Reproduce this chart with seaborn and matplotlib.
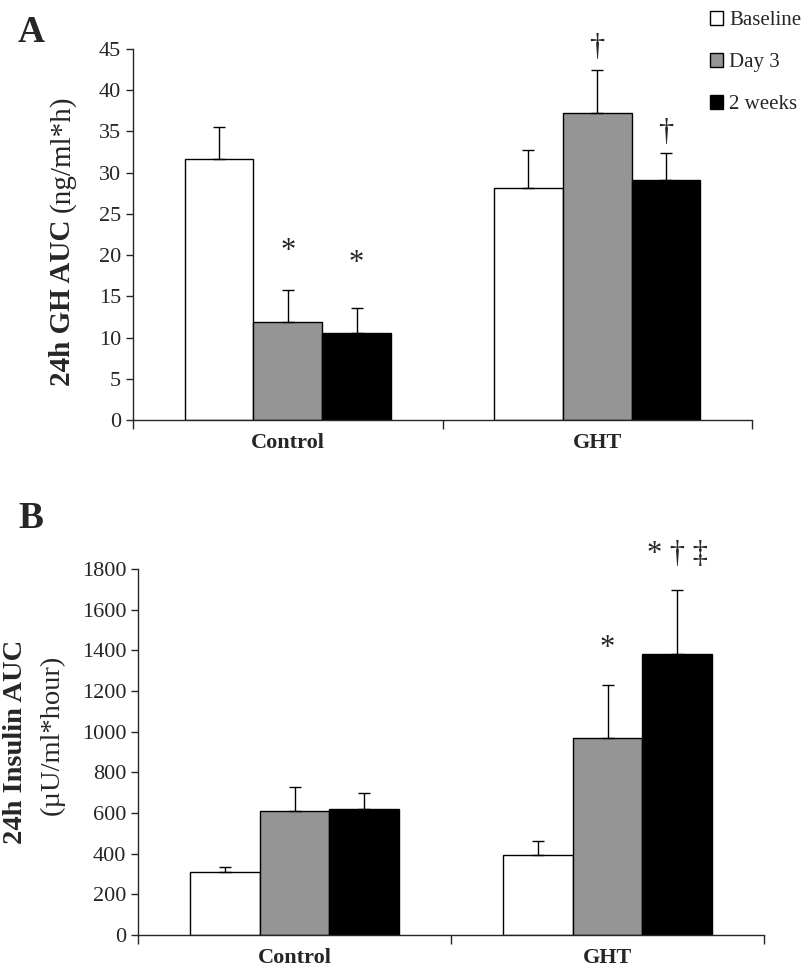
import pandas as pd
import matplotlib.pyplot as plt
import seaborn as sns
from matplotlib.patches import Patch

# Data
groups = ["Control", "GHT"]
times = ["Baseline", "Day 3", "2 weeks"]
colors = ["#ffffff", "#959595", "#000000"]

# Panel A: 24h GH AUC (ng/ml*h)
gh_baseline = [31.6, 28.2]
gh_day3 = [11.9, 37.2]
gh_2wk = [10.6, 29.1]
gh_err_baseline = [3.9, 4.6]
gh_err_day3 = [3.9, 5.3]
gh_err_2wk = [3.0, 3.3]

# Panel B: 24h Insulin AUC (uU/ml*hour)
ins_baseline = [308, 392]
ins_day3 = [610, 970]
ins_2wk = [621, 1380]
ins_err_baseline = [26, 72]
ins_err_day3 = [116, 258]
ins_err_2wk = [76, 318]

# significance marks (group, time, y position)
gh_marks = [("Control", "Day 3", "*", 20.4), ("Control", "2 weeks", "*", 19.0),
            ("GHT", "Day 3", "†", 45.2), ("GHT", "2 weeks", "†", 34.9)]
ins_marks = [("GHT", "Day 3", "*", 1410), ("GHT", "2 weeks", "* † ‡", 1870)]


def to_long(base, d3, w2, eb, ed3, ew2):
    rows = []
    for vals, errs, t in [(base, eb, times[0]), (d3, ed3, times[1]), (w2, ew2, times[2])]:
        for g, v, e in zip(groups, vals, errs):
            rows.append({"group": g, "time": t, "value": v, "err": e})
    return pd.DataFrame(rows)


df_gh = to_long(gh_baseline, gh_day3, gh_2wk, gh_err_baseline, gh_err_day3, gh_err_2wk)
df_ins = to_long(ins_baseline, ins_day3, ins_2wk, ins_err_baseline, ins_err_day3, ins_err_2wk)

sns.set_style("ticks")
plt.rcParams["font.family"] = ["Liberation Serif", "DejaVu Serif"]
plt.rcParams["axes.linewidth"] = 1.0

fig = plt.figure(figsize=(8.06, 9.72), dpi=100)
axA = fig.add_axes([133 / 806, 1 - 420 / 972, (752 - 133) / 806, (420 - 49) / 972])
axB = fig.add_axes([138 / 806, 1 - 935 / 972, (764 - 138) / 806, (935 - 569) / 972])


def draw(ax, df, ymax, ystep, marks):
    sns.barplot(data=df, x="group", y="value", hue="time", order=groups, hue_order=times,
                palette=colors, edgecolor="black", linewidth=1, width=0.667,
                errorbar=None, legend=False, ax=ax)
    # upward-only error bars at the bar centres
    pos = {}
    for t, cont in zip(times, ax.containers):
        sub = df[df["time"] == t].set_index("group").loc[groups]
        xs = [b.get_x() + b.get_width() / 2 for b in cont]
        for g, x in zip(groups, xs):
            pos[(g, t)] = x
        ax.errorbar(xs, sub["value"], yerr=[[0] * len(xs), sub["err"]], fmt="none",
                    ecolor="black", elinewidth=1, capsize=4.5, capthick=1)
    for g, t, s, y in marks:
        ax.text(pos[(g, t)], y, s, ha="center", va="center", fontsize=22, clip_on=False)

    ax.set_ylim(0, ymax)
    ax.set_yticks(range(0, ymax + 1, ystep))
    ax.set_xlim(-0.5, 1.5)
    ax.set_xticks([-0.5, 0.5, 1.5])
    ax.set_xticklabels([])
    ax.set_xticks([0, 1], minor=True)
    ax.set_xticklabels(groups, minor=True, fontsize=16, fontweight="bold")
    ax.tick_params(axis="x", which="major", direction="out", length=6.5, width=1)
    ax.tick_params(axis="x", which="minor", length=0, pad=9)
    ax.tick_params(axis="y", direction="out", length=5, width=1, labelsize=16)
    ax.set_xlabel("")
    ax.set_ylabel("")
    sns.despine(ax=ax)


draw(axA, df_gh, 45, 5, gh_marks)
draw(axB, df_ins, 1800, 200, ins_marks)

# y labels with bold + regular parts
fig.text(62 / 806, 1 - 212 / 972, "24h GH AUC ", rotation=90, ha="center", va="top",
         fontsize=21, fontweight="bold")
fig.text(62 / 806, 1 - 212 / 972, "(ng/ml*h)", rotation=90, ha="center", va="bottom",
         fontsize=21)
fig.text(16 / 806, 1 - 742 / 972, "24h Insulin AUC", rotation=90, ha="center", va="center",
         fontsize=20.5, fontweight="bold")
fig.text(52 / 806, 1 - 735 / 972, "(µU/ml*hour)", rotation=90, ha="center", va="center",
         fontsize=20.5)

# panel letters
fig.text(18 / 806, 1 - 42 / 972, "A", fontsize=27, fontweight="bold")
fig.text(18 / 806, 1 - 528 / 972, "B", fontsize=27, fontweight="bold")

handles = [Patch(facecolor=c, edgecolor="black", linewidth=1) for c in colors]
fig.legend(handles, times, loc="upper left", bbox_to_anchor=(700 / 806, 1 - 1 / 972),
           frameon=False, fontsize=15, handlelength=0.6, handleheight=0.6,
           handletextpad=0.3, labelspacing=1.1, borderpad=0)

plt.savefig("out.png", dpi=100)
plt.close()
